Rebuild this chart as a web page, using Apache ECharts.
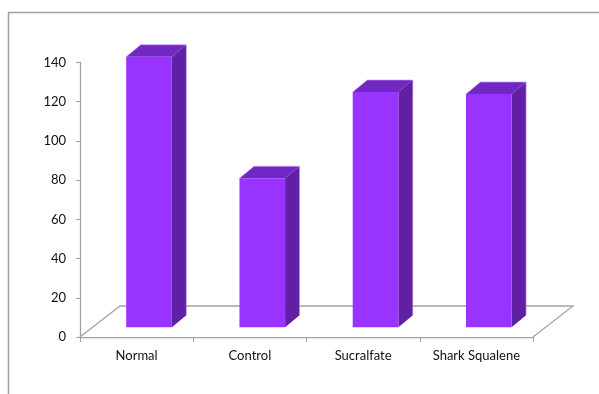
<!DOCTYPE html>
<html>
<head>
<meta charset="utf-8">
<script src="https://cdn.jsdelivr.net/npm/echarts@6/dist/echarts.min.js"></script>
<style>
  html, body { margin: 0; padding: 0; background: #ffffff; }
  #chart { width: 599px; height: 394px; }
</style>
</head>
<body>
<div id="chart"></div>
<script>
// Groups and their measured values
const categories = ['Normal', 'Control', 'Sucralfate', 'Shark Squalene'];
const values = [138, 76, 120, 119];
const yTicks = { min: 0, max: 140, interval: 20 };

// 3D look: floor depth and bar depth offsets (pixels)
const FLOOR_DX = 40, FLOOR_DY = -31;
const BAR_SHIFT_DX = 12.4, BAR_SHIFT_DY = -9.7;
const BAR_DEPTH_DX = 14.5, BAR_DEPTH_DY = -12;
const BAR_WIDTH_RATIO = 0.403;

const FRONT = '#9933ff', SIDE = '#611fa3', TOP = '#7127c2', EDGE = '#c8a4f5';
const AXIS_GREY = '#a3a3a3';
const FONT = 'Lato';

const chart = echarts.init(document.getElementById('chart'), null, { renderer: 'canvas' });

function renderFloor(params, api) {
  const bw = api.size([1, 0])[0];
  const left = api.coord([0, 0]);
  const right = api.coord([categories.length - 1, 0]);
  const x0 = left[0] - bw / 2, x1 = right[0] + bw / 2, y0 = left[1];
  const pts = [[x0, y0], [x1, y0], [x1 + FLOOR_DX, y0 + FLOOR_DY], [x0 + FLOOR_DX, y0 + FLOOR_DY]];
  return {
    type: 'group',
    children: [
      { type: 'polygon', shape: { points: pts }, style: { fill: '#ffffff', stroke: null } },
      { type: 'polyline', shape: { points: [pts[0], pts[3], pts[2], pts[1]] },
        style: { stroke: AXIS_GREY, lineWidth: 1.3, fill: null } }
    ]
  };
}

function renderBar(params, api) {
  const idx = api.value(0);
  const v = api.value(1);
  const bw = api.size([1, 0])[0];
  const base = api.coord([idx, 0]);
  const topPt = api.coord([idx, v]);
  const w = bw * BAR_WIDTH_RATIO;
  const cx = base[0] + BAR_SHIFT_DX;
  const xl = cx - w / 2, xr = cx + w / 2;
  const yb = base[1] + BAR_SHIFT_DY;
  const yt = topPt[1] + BAR_SHIFT_DY;
  const dx = BAR_DEPTH_DX, dy = BAR_DEPTH_DY;
  return {
    type: 'group',
    children: [
      { type: 'polygon', shape: { points: [[xr, yt], [xr + dx, yt + dy], [xr + dx, yb + dy], [xr, yb]] },
        style: { fill: SIDE } },
      { type: 'polygon', shape: { points: [[xl, yt], [xl + dx, yt + dy], [xr + dx, yt + dy], [xr, yt]] },
        style: { fill: TOP } },
      { type: 'rect', shape: { x: xl, y: yt, width: w, height: yb - yt },
        style: { fill: FRONT } },
      { type: 'polyline', shape: { points: [[xl, yt], [xl + dx, yt + dy], [xr + dx, yt + dy], [xr + dx, yb + dy]] },
        style: { stroke: EDGE, lineWidth: 0.8, fill: null, opacity: 0.8 } }
    ]
  };
}

chart.setOption({
  animation: false,
  backgroundColor: '#ffffff',
  graphic: [{
    type: 'rect',
    shape: { x: 8.5, y: 12.5, width: 700, height: 500 },
    style: { fill: null, stroke: '#a0a0a0', lineWidth: 1.5 },
    silent: true
  }],
  grid: { left: 80, right: 66, top: 62.5, bottom: 57 },
  xAxis: {
    type: 'category',
    data: categories,
    boundaryGap: true,
    axisLine: { show: true, lineStyle: { color: AXIS_GREY, width: 1.3 } },
    axisTick: { show: true, interval: 0, length: 5, alignWithLabel: false, lineStyle: { color: AXIS_GREY } },
    axisLabel: { interval: 0, color: '#111111', fontFamily: FONT, fontSize: 13, margin: 12 },
    splitLine: { show: false }
  },
  yAxis: {
    type: 'value',
    min: yTicks.min, max: yTicks.max, interval: yTicks.interval,
    axisLine: { show: true, lineStyle: { color: AXIS_GREY, width: 1.3 } },
    axisTick: { show: true, length: 4, lineStyle: { color: AXIS_GREY } },
    axisLabel: { color: '#111111', fontFamily: FONT, fontSize: 13, margin: 14 },
    splitLine: { show: false }
  },
  series: [
    {
      type: 'custom',
      renderItem: renderFloor,
      data: [[0, 0]],
      z: 1,
      silent: true
    },
    {
      type: 'custom',
      renderItem: renderBar,
      data: values.map((v, i) => [i, v]),
      encode: { x: 0, y: 1 },
      z: 3
    }
  ]
});
</script>
</body>
</html>
